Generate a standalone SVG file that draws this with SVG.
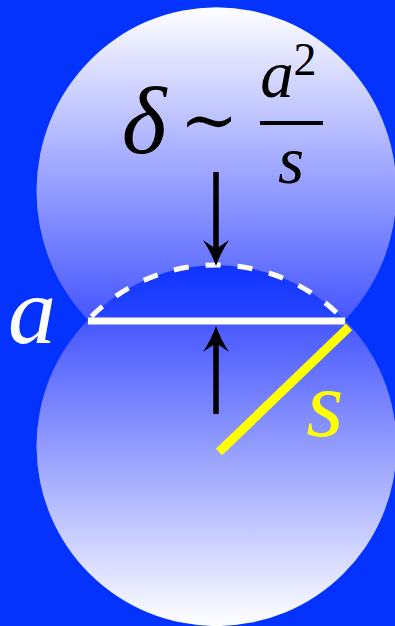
<svg xmlns="http://www.w3.org/2000/svg" width="395" height="626" viewBox="0 0 395 626">
  <defs>
    <linearGradient id="gTop" gradientUnits="userSpaceOnUse" x1="0" y1="6" x2="0" y2="320">
      <stop offset="0" stop-color="#FFFFFF"/>
      <stop offset="1" stop-color="#4656FF"/>
    </linearGradient>
    <linearGradient id="gBot" gradientUnits="userSpaceOnUse" x1="0" y1="320" x2="0" y2="626">
      <stop offset="0" stop-color="#4656FF"/>
      <stop offset="1" stop-color="#FFFFFF"/>
    </linearGradient>
    <linearGradient id="gLens" gradientUnits="userSpaceOnUse" x1="0" y1="267" x2="0" y2="320">
      <stop offset="0" stop-color="#1034FF"/>
      <stop offset="1" stop-color="#2846FF"/>
    </linearGradient>
    <marker id="head" markerUnits="userSpaceOnUse" markerWidth="28" markerHeight="28" viewBox="0 0 26 28" refX="15" refY="14" orient="auto">
      <path d="M26 14 Q13 9.5 0 1 L9 14 L0 27 Q13 18.5 26 14 Z" fill="#000"/>
    </marker>
    <style>
      .math { font-family: "Liberation Serif", "DejaVu Serif", serif; font-style: italic; text-anchor: middle; }
      .shaft { stroke: #000; stroke-width: 5.5; fill: none; marker-end: url(#head); }
    </style>
  </defs>
  <rect width="395" height="626" fill="#0433FF"/>
  <g id="top-sphere">
    <path d="M88 320 A180 184 0 1 1 345 320 Z" fill="url(#gTop)"/>
  </g>
  <g id="bottom-sphere">
    <path d="M88 320 A180 180 0 1 0 345 320 Z" fill="url(#gBot)"/>
  </g>
  <g id="overlap">
    <path d="M88 320 A178 178 0 0 1 345 320 Z" fill="url(#gLens)"/>
    <path d="M90 318 A176 176 0 0 1 342 318" fill="none" stroke="#FFFFFF" stroke-width="5" stroke-dasharray="15 17" stroke-dashoffset="-2"/>
  </g>
  <g id="connectors">
    <line x1="219" y1="452" x2="349" y2="327" stroke="#FFFF00" stroke-width="9"/>
    <line x1="88" y1="321" x2="345" y2="321" stroke="#FFFFFF" stroke-width="7"/>
    <line class="shaft" x1="216" y1="172" x2="216" y2="255"/>
    <line class="shaft" x1="216" y1="414" x2="216" y2="337"/>
  </g>
  <g id="labels">
    <text class="math" x="144" y="153" font-size="96" fill="#000">δ</text>
    <text x="209" y="144" font-size="70" fill="#000" text-anchor="middle" font-family="DejaVu Serif, serif">∼</text>
    <text class="math" x="277" y="97" font-size="67" fill="#000">a</text>
    <text x="305" y="75" font-size="46" fill="#000" text-anchor="middle" font-family="Liberation Serif, serif">2</text>
    <rect x="260" y="121" width="63" height="4" fill="#000"/>
    <text class="math" x="291" y="183" font-size="67" fill="#000">s</text>
    <text class="math" x="32" y="343" font-size="96" fill="#FFFFFF">a</text>
    <text class="math" x="325" y="436" font-size="96" fill="#FFFF00">s</text>
  </g>
</svg>
